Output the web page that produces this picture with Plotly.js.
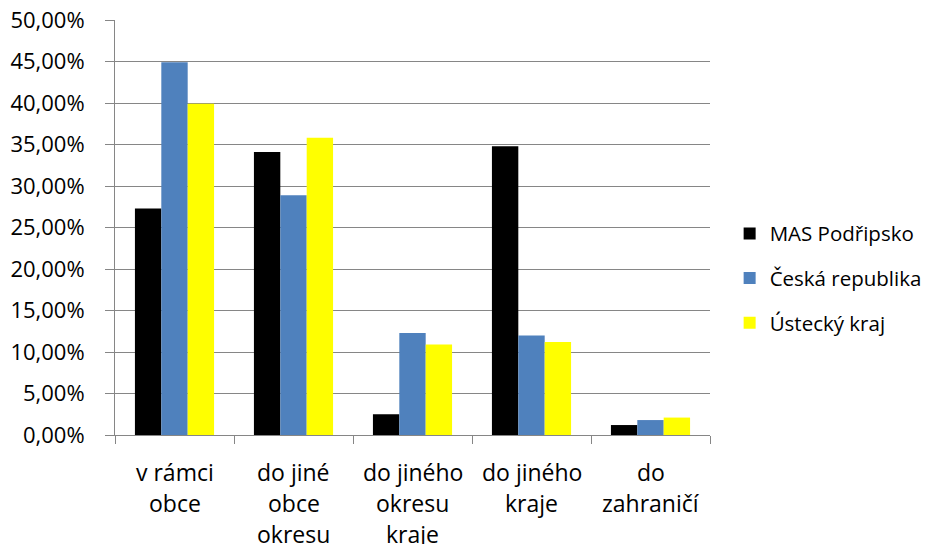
<!DOCTYPE html>
<html>
<head>
<meta charset="utf-8">
<script src="https://cdn.plot.ly/plotly-3.0.1.min.js"></script>
<style>html,body{margin:0;padding:0;background:#fff;}</style>
</head>
<body>
<div id="chart" style="width:927px;height:544px;"></div>
<script>
const categories = ["v rámci obce", "do jiné obce okresu", "do jiného okresu kraje", "do jiného kraje", "do zahraničí"];
const categoryLines = [["v rámci", "obce"], ["do jiné", "obce", "okresu"], ["do jiného", "okresu", "kraje"], ["do jiného", "kraje"], ["do", "zahraničí"]];
const seriesNames = ["MAS Podřipsko", "Česká republika", "Ústecký kraj"];
const masPodripsko = [27.3, 34.1, 2.5, 34.8, 1.2];
const ceskaRepublika = [44.9, 28.9, 12.3, 12.0, 1.8];
const usteckyKraj = [39.9, 35.8, 10.9, 11.2, 2.1];
const yTicks = [0, 5, 10, 15, 20, 25, 30, 35, 40, 45, 50];
const yTickText = yTicks.map(v => v.toFixed(2).replace(".", ",") + "%");

const colors = ["#000000", "#4F81BD", "#FFFF00"];
const values = [masPodripsko, ceskaRepublika, usteckyKraj];
const font = "'Open Sans', 'Liberation Sans', sans-serif";
const fs = 23;
const tickFs = 22;
const legFs = 20.5;

const traces = values.map((v, i) => ({
  type: "bar",
  name: seriesNames[i],
  x: categories,
  y: v,
  marker: {color: colors[i]},
  legendgroup: "g" + i,
  hoverinfo: "none"
}));

const annotations = [];
categoryLines.forEach((lines, ci) => {
  lines.forEach((ln, li) => {
    annotations.push({
      x: categories[ci], xref: "x", y: 0, yref: "paper",
      yanchor: "middle", xanchor: "center",
      yshift: -36.5 - li * 31.2,
      text: ln, showarrow: false,
      font: {family: font, size: fs, color: "#000"}
    });
  });
});

const layout = {
  width: 927, height: 544,
  margin: {l: 115, r: 217, t: 20, b: 109, autoexpand: false},
  paper_bgcolor: "#fff", plot_bgcolor: "#fff",
  barmode: "group",
  bargap: 0.335, bargroupgap: 0,
  font: {family: font, size: fs, color: "#000"},
  xaxis: {
    type: "category",
    showticklabels: false,
    ticks: "outside", tickson: "boundaries", ticklen: 8, tickcolor: "#868686",
    showline: true, linecolor: "#868686", linewidth: 1,
    showgrid: false, zeroline: false
  },
  yaxis: {
    range: [0, 50],
    tickmode: "array",
    tickvals: yTicks,
    ticktext: yTickText,
    ticks: "outside", ticklen: 9, tickcolor: "#868686",
    ticklabelstandoff: 16,
    showline: true, linecolor: "#868686", linewidth: 1,
    showgrid: true, gridcolor: "#868686", gridwidth: 1,
    zeroline: false,
    tickfont: {family: font, size: tickFs, color: "#000"}
  },
  legend: {
    x: 1.033, xanchor: "left", y: 0.378, yanchor: "middle",
    traceorder: "grouped", tracegroupgap: 15,
    font: {family: font, size: legFs, color: "#000"},
    itemwidth: 30
  },
  annotations: annotations
};

Plotly.newPlot("chart", traces, layout, {displayModeBar: false, staticPlot: true});
</script>
</body>
</html>
